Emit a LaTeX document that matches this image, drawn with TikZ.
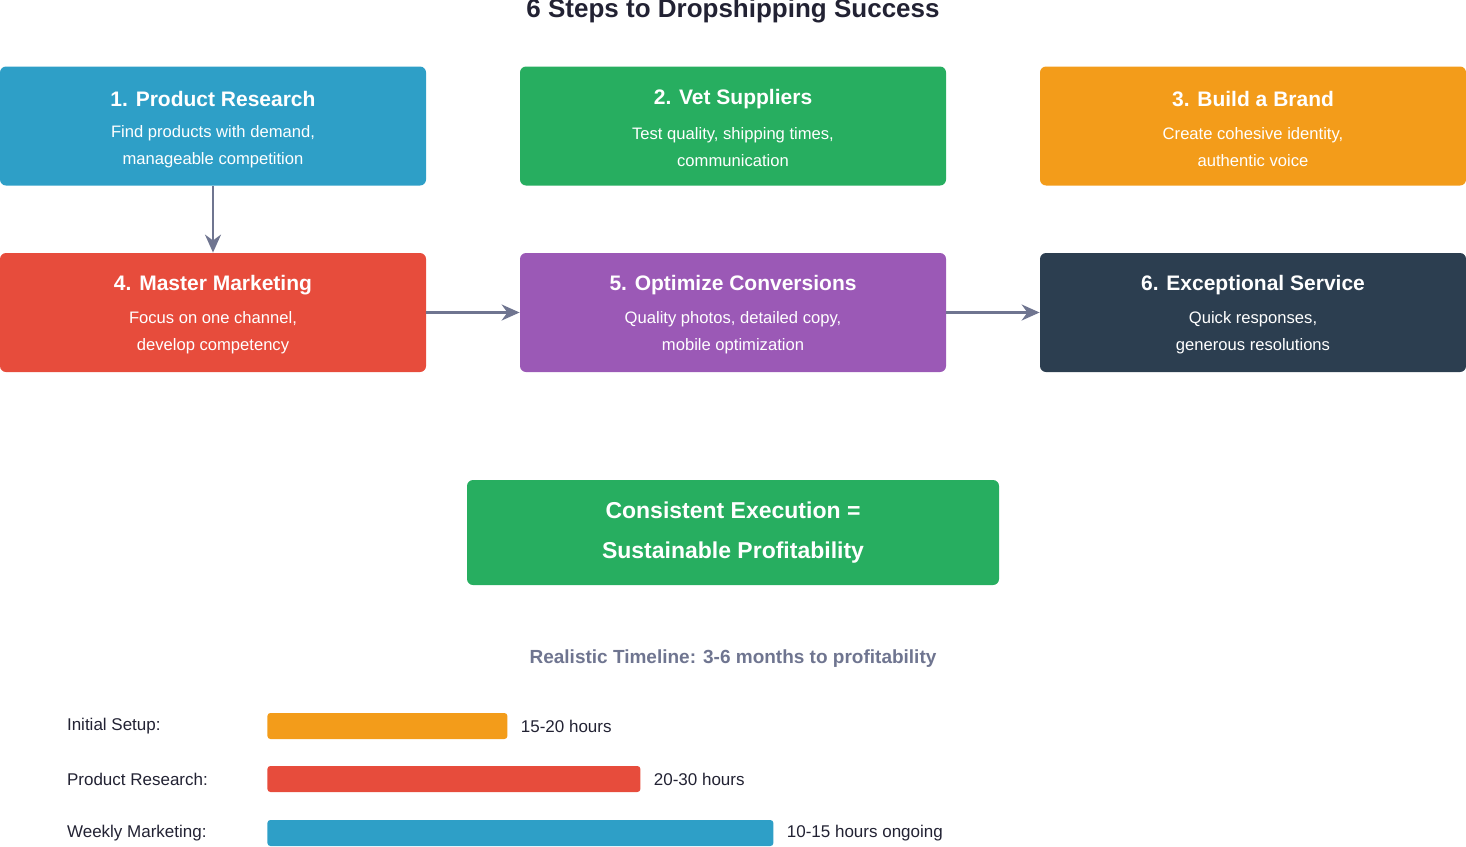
\documentclass[tikz,border=0pt]{standalone}
\usepackage{fontspec}
\setmainfont{Liberation Sans}
\usetikzlibrary{positioning,arrows.meta}
\definecolor{cblue}{HTML}{2E9FC7}
\definecolor{cgreen}{HTML}{27AE60}
\definecolor{corange}{HTML}{F39C1A}
\definecolor{cred}{HTML}{E74C3C}
\definecolor{cpurple}{HTML}{9B59B6}
\definecolor{cdark}{HTML}{2C3E50}
\definecolor{carrow}{HTML}{6F7590}
\definecolor{ctitle}{HTML}{222233}

\begin{document}
\begin{tikzpicture}[
    x=0.5pt, y=-0.5pt,
    stepbox/.style={rounded corners=3pt, minimum width=213pt, minimum height=59.5pt, inner sep=0pt},
    steptitle/.style={text=white, font=\fontsize{10.5}{12}\selectfont\bfseries},
    steptext/.style={text=white, align=center, font=\fontsize{8.3}{13.5}\selectfont},
    flow/.style={-{Stealth[length=9pt,width=8pt]}, draw=carrow, line width=1.2pt},
    bar/.style={rounded corners=1.5pt, minimum height=13pt, inner sep=0pt, anchor=west},
    barlabel/.style={anchor=west, font=\fontsize{8.5}{10}\selectfont, text=ctitle}
  ]
  \useasboundingbox (0,0) rectangle (1466,846);

  % title
  \node[font=\fontsize{13}{15}\selectfont\bfseries, text=ctitle] (title) at (733,11) {6 Steps to Dropshipping Success};

  % step boxes
  \node[stepbox, fill=cblue]   (s1) at (213,126)   {};
  \node[stepbox, fill=cgreen]  (s2) at (733,126)   {};
  \node[stepbox, fill=corange] (s3) at (1253,126)  {};
  \node[stepbox, fill=cred]    (s4) at (213,312.5) {};
  \node[stepbox, fill=cpurple] (s5) at (733,312.5) {};
  \node[stepbox, fill=cdark]   (s6) at (1253,312.5){};

  \node[steptitle] at ([yshift=13.5pt]s1.center) {1. Product Research};
  \node[steptext]  at ([yshift=-10.3pt]s1.center) {Find products with demand,\\manageable competition};
  \node[steptitle] at ([yshift=13.5pt]s2.center) {2. Vet Suppliers};
  \node[steptext]  at ([yshift=-10.3pt]s2.center) {Test quality, shipping times,\\communication};
  \node[steptitle] at ([yshift=13.5pt]s3.center) {3. Build a Brand};
  \node[steptext]  at ([yshift=-10.3pt]s3.center) {Create cohesive identity,\\authentic voice};
  \node[steptitle] at ([yshift=13.5pt]s4.center) {4. Master Marketing};
  \node[steptext]  at ([yshift=-10.3pt]s4.center) {Focus on one channel,\\develop competency};
  \node[steptitle] at ([yshift=13.5pt]s5.center) {5. Optimize Conversions};
  \node[steptext]  at ([yshift=-10.3pt]s5.center) {Quality photos, detailed copy,\\mobile optimization};
  \node[steptitle] at ([yshift=13.5pt]s6.center) {6. Exceptional Service};
  \node[steptext]  at ([yshift=-10.3pt]s6.center) {Quick responses,\\generous resolutions};

  % flow
  \draw[flow] (s1) -- (s4);
  \draw[flow] (s4) -- (s5);
  \draw[flow] (s5) -- (s6);

  % summary
  \node[stepbox, fill=cgreen, minimum width=266pt, minimum height=52.5pt, text=white, align=center,
        font=\fontsize{11.5}{20}\selectfont\bfseries] (sum) at (733,532.5)
        {Consistent Execution =\\Sustainable Profitability};

  % timeline
  \node[font=\fontsize{9.5}{11}\selectfont\bfseries, text=carrow] (tl) at (733,659)
        {Realistic Timeline: 3-6 months to profitability};

  \node[barlabel] (l1) at (60,726) {Initial Setup:};
  \node[barlabel] (l2) at (60,779) {Product Research:};
  \node[barlabel] (l3) at (60,833) {Weekly Marketing:};
  \node[bar, fill=corange, minimum width=120pt]   (b1) at (267,726) {};
  \node[bar, fill=cred,    minimum width=186.5pt] (b2) at (267,779) {};
  \node[bar, fill=cblue,   minimum width=253pt]   (b3) at (267,833) {};
  \node[barlabel, right=3pt of b1] (v1) {15-20 hours};
  \node[barlabel, right=3pt of b2] (v2) {20-30 hours};
  \node[barlabel, right=3pt of b3] (v3) {10-15 hours ongoing};
\end{tikzpicture}
\end{document}
